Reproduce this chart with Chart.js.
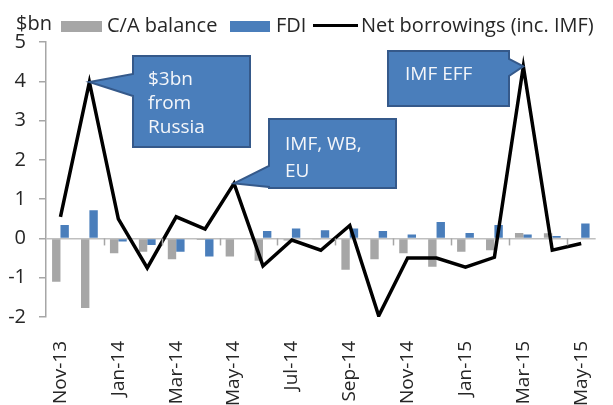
<!DOCTYPE html>
<html>
<head>
<meta charset="utf-8">
<script src="https://cdn.jsdelivr.net/npm/chart.js@4.4.1/dist/chart.umd.min.js"></script>
<style>
  html, body { margin: 0; padding: 0; background: #fff; overflow: hidden; }
  #wrap { width: 620px; height: 405px; position: relative; }
</style>
</head>
<body>
<div id="wrap"><canvas id="c"></canvas></div>
<script>
/* Ukraine external financing, monthly, $bn */
var months = ['Nov-13', 'Dec-13', 'Jan-14', 'Feb-14', 'Mar-14', 'Apr-14', 'May-14', 'Jun-14',
  'Jul-14', 'Aug-14', 'Sep-14', 'Oct-14', 'Nov-14', 'Dec-14', 'Jan-15', 'Feb-15', 'Mar-15',
  'Apr-15', 'May-15'];
var caBalance = [-1.1, -1.77, -0.38, -0.34, -0.53, -0.04, -0.46, -0.57, -0.05, -0.03, -0.8,
  -0.53, -0.38, -0.72, -0.34, -0.3, 0.14, 0.13, 0];
var fdi = [0.34, 0.72, -0.08, -0.17, -0.34, -0.46, 0, 0.19, 0.25, 0.21, 0.25, 0.19, 0.1,
  0.42, 0.14, 0.34, 0.1, 0.06, 0.38];
var netBorrowings = [0.55, 3.98, 0.5, -0.75, 0.55, 0.24, 1.4, -0.7, -0.04, -0.3, 0.33, -1.97,
  -0.5, -0.5, -0.73, -0.48, 4.38, -0.3, -0.13];
var yMin = -2, yMax = 5;

/* callouts: text lines and the month they point at */
var calloutText = [['$3bn', 'from', 'Russia'], ['IMF, WB,', 'EU'], ['IMF EFF']];
var calloutMonth = ['Dec-13', 'May-14', 'Mar-15'];

var FONT = '"Open Sans", "DejaVu Sans", sans-serif';
var INK = { gray: '#a6a6a6', blue: '#4a7ebb', text: '#262626', axis: '#a6a6a6',
  zero: '#bfbfbf', box: '#4a7ebb', boxEdge: '#35598a' };

// box geometry (pixels) + which side carries the pointer
var BOXES = [
  { x0: 133, y0: 56, x1: 250, y1: 147, side: 'left', b0: 74, b1: 96, tx: 148, ty: 80, lh: 24 },
  { x0: 269, y0: 119, x1: 396, y1: 188, side: 'left', b0: 166, b1: 187, tx: 285, ty: 145, lh: 27 },
  { x0: 388, y0: 51, x1: 509, y1: 106, side: 'right', b0: 59, b1: 76, tx: 405, ty: 75, lh: 24 }
];

function drawCallout(ctx, b, tip, lines) {
  ctx.save();
  ctx.beginPath();
  if (b.side === 'left') {
    ctx.moveTo(b.x0, b.y0); ctx.lineTo(b.x1, b.y0); ctx.lineTo(b.x1, b.y1);
    ctx.lineTo(b.x0, b.y1); ctx.lineTo(b.x0, b.b1); ctx.lineTo(tip.x, tip.y);
    ctx.lineTo(b.x0, b.b0);
  } else {
    ctx.moveTo(b.x0, b.y0); ctx.lineTo(b.x1, b.y0); ctx.lineTo(b.x1, b.b0);
    ctx.lineTo(tip.x, tip.y); ctx.lineTo(b.x1, b.b1); ctx.lineTo(b.x1, b.y1);
    ctx.lineTo(b.x0, b.y1);
  }
  ctx.closePath();
  ctx.fillStyle = INK.box;
  ctx.fill();
  ctx.lineWidth = 2;
  ctx.strokeStyle = INK.boxEdge;
  ctx.stroke();
  ctx.fillStyle = '#f4f6fa';
  ctx.font = '19px ' + FONT;
  ctx.textBaseline = 'middle';
  ctx.textAlign = 'left';
  lines.forEach(function (t, i) { ctx.fillText(t, b.tx, b.ty + i * b.lh); });
  ctx.restore();
}

var decorations = {
  id: 'decorations',
  afterDatasetsDraw: function (chart) {
    var ctx = chart.ctx, xs = chart.scales.x, ys = chart.scales.y;
    var zero = ys.getPixelForValue(0);
    var step = xs.getPixelForValue(1) - xs.getPixelForValue(0);

    // category-axis tick marks on the zero line, every second month
    ctx.save();
    ctx.strokeStyle = INK.axis;
    ctx.lineWidth = 1.5;
    for (var i = 2; i < months.length; i += 2) {
      var tx = Math.round(xs.getPixelForValue(i) - step / 2) + 0.5;
      ctx.beginPath(); ctx.moveTo(tx, zero); ctx.lineTo(tx, zero + 7); ctx.stroke();
    }
    ctx.restore();

    // callouts
    calloutMonth.forEach(function (m, k) {
      var idx = months.indexOf(m);
      var tip = { x: xs.getPixelForValue(idx), y: ys.getPixelForValue(netBorrowings[idx]) };
      drawCallout(ctx, BOXES[k], tip, calloutText[k]);
    });
  },
  afterDraw: function (chart) {
    var ctx = chart.ctx;
    ctx.save();
    ctx.font = '20px ' + FONT;
    ctx.fillStyle = INK.text;
    ctx.textBaseline = 'middle';
    ctx.textAlign = 'left';
    ctx.fillText('$bn', 16, 24);
    // legend
    ctx.fillStyle = INK.gray;  ctx.fillRect(61, 21, 41, 11);
    ctx.fillStyle = INK.text;  ctx.fillText('C/A balance', 107, 26);
    ctx.fillStyle = INK.blue;  ctx.fillRect(230, 21, 40, 11);
    ctx.fillStyle = INK.text;  ctx.fillText('FDI', 276, 26);
    ctx.strokeStyle = '#000'; ctx.lineWidth = 3;
    ctx.beginPath(); ctx.moveTo(313, 25.5); ctx.lineTo(358, 25.5); ctx.stroke();
    ctx.fillText('Net borrowings (inc. IMF)', 361, 26);
    ctx.restore();
  }
};

new Chart(document.getElementById('c').getContext('2d'), {
  type: 'bar',
  data: {
    labels: months,
    datasets: [
      { type: 'line', label: 'Net borrowings (inc. IMF)', data: netBorrowings,
        borderColor: '#000', borderWidth: 3.5, pointRadius: 0, tension: 0, order: 0,
        borderJoinStyle: 'miter' },
      { label: 'C/A balance', data: caBalance, backgroundColor: INK.gray,
        barPercentage: 1, categoryPercentage: 0.58, order: 1 },
      { label: 'FDI', data: fdi, backgroundColor: INK.blue,
        barPercentage: 1, categoryPercentage: 0.58, order: 1 }
    ]
  },
  options: {
    responsive: true,
    maintainAspectRatio: false,
    animation: false,
    layout: { padding: { top: 42, right: 0, left: 0, bottom: 0 } },
    plugins: { legend: { display: false }, tooltip: { enabled: false } },
    scales: {
      x: {
        grid: { display: false },
        border: { display: false },
        ticks: {
          autoSkip: false, minRotation: 90, maxRotation: 90, padding: 16,
          color: INK.text, font: { family: FONT, size: 19 },
          callback: function (v, i) { return i % 2 === 0 ? this.getLabelForValue(v) : ''; }
        },
        afterFit: function (s) { s.height = 88; }
      },
      y: {
        min: yMin, max: yMax,
        ticks: { stepSize: 1, color: INK.text, font: { family: FONT, size: 20 }, padding: 13 },
        grid: {
          color: function (c) { return c.tick && c.tick.value === 0 ? INK.zero : 'transparent'; },
          lineWidth: 1.5, tickColor: INK.axis, tickLength: 7
        },
        border: { color: INK.axis, width: 1.5 },
        afterFit: function (s) { s.width = 46; }
      }
    }
  },
  plugins: [decorations]
});
</script>
</body>
</html>
